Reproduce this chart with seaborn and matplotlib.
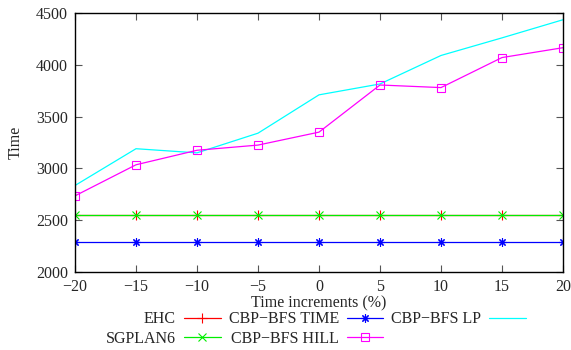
import matplotlib
matplotlib.use("Agg")
import matplotlib.pyplot as plt
import seaborn as sns
import numpy as np

increments = [-20, -15, -10, -5, 0, 5, 10, 15, 20]
ehc = [2550, 2550, 2550, 2550, 2550, 2550, 2550, 2550, 2550]
cbp_time = [2290, 2290, 2290, 2290, 2290, 2290, 2290, 2290, 2290]
cbp_lp = [2835, 3190, 3150, 3340, 3710, 3815, 4090, 4260, 4435]
sgplan6 = [2550, 2550, 2550, 2550, 2550, 2550, 2550, 2550, 2550]
cbp_hill = [2735, 3035, 3175, 3225, 3350, 3805, 3780, 4070, 4165]

sns.set_style("ticks")
plt.rcParams['font.family'] = ['Liberation Serif', 'DejaVu Serif']

fig = plt.figure(figsize=(5.71, 3.5), dpi=100)
ax = fig.add_axes([75/571, 1-272/350, (563-75)/571, (272-13)/350])

asterisk = (8, 2, 0)
series = [
    ("EHC", ehc, "#ff0000", "+", 7, None),
    ("CBP\u2212BFS TIME", cbp_time, "#0000ff", asterisk, 6, None),
    ("CBP\u2212BFS LP", cbp_lp, "#00ffff", None, 0, None),
    ("SGPLAN6", sgplan6, "#00ee00", "x", 5.5, None),
    ("CBP\u2212BFS HILL", cbp_hill, "#ff00ff", "s", 6, "none"),
]
for name, vals, col, mk, ms, mfc in series:
    kw = dict(x=increments, y=vals, color=col, ax=ax, linewidth=0.9, label=name)
    if mk is not None:
        kw.update(marker=mk, markersize=ms, markeredgewidth=0.8, markeredgecolor=col)
        if mfc is not None:
            kw.update(markerfacecolor=mfc)
    sns.lineplot(**kw)
h, l = ax.get_legend_handles_labels()
lab2h = dict(zip(l, h))
if ax.get_legend() is not None:
    ax.get_legend().remove()

fs = 11.5
ax.set_xlim(-20, 20)
ax.set_ylim(2000, 4500)
ax.set_xticks(increments)
ax.set_xticklabels(["\u221220", "\u221215", "\u221210", "\u22125", "0", "5", "10", "15", "20"])
ax.set_yticks([2000, 2500, 3000, 3500, 4000, 4500])
ax.tick_params(direction="in", length=5, width=0.8, color="#555555", labelsize=fs,
               top=True, right=True, pad=5)
for s in ax.spines.values():
    s.set_linewidth(1.0)
    s.set_color("black")
ax.set_xlabel("Time increments (%)", fontsize=fs, labelpad=0)
ax.set_ylabel("Time", fontsize=fs, labelpad=9)

order = ["EHC", "SGPLAN6", "CBP\u2212BFS TIME", "CBP\u2212BFS HILL", "CBP\u2212BFS LP"]
fig.legend([lab2h[o] for o in order], order, ncol=3, markerfirst=False,
           frameon=False, fontsize=fs, loc="center", bbox_to_anchor=(316/571, 1-329/350),
           handlelength=2.3, handletextpad=0.5, columnspacing=0.5, labelspacing=0.22,
           borderpad=0, borderaxespad=0)

fig.savefig("out.png", dpi=100)
